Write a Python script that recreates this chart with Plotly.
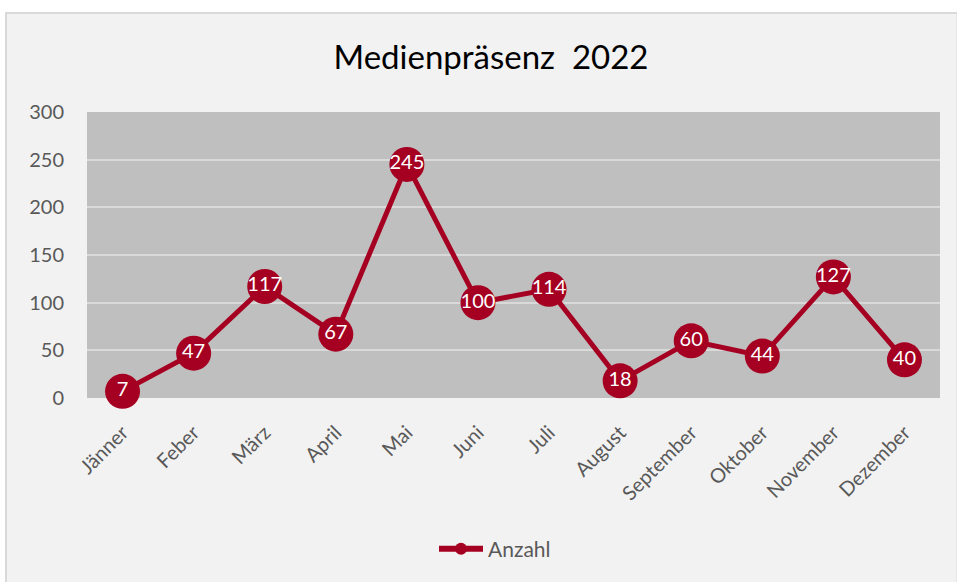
import plotly.graph_objects as go

months = ["Jänner", "Feber", "März", "April", "Mai", "Juni", "Juli",
          "August", "September", "Oktober", "November", "Dezember"]
anzahl = [7, 47, 117, 67, 245, 100, 114, 18, 60, 44, 127, 40]
y_ticks = [0, 50, 100, 150, 200, 250, 300]

RED = "#a50021"
W, H = 957, 582
L, R, T, B = 87, 17, 112, 184
pw, ph = W - L - R, H - T - B


def px_x(x):
    return (x - L) / pw


def px_y(y):
    return (H - B - y) / ph


fig = go.Figure()
fig.add_trace(go.Scatter(
    x=months, y=anzahl, name="Anzahl", showlegend=False,
    mode="lines+markers+text",
    line=dict(color=RED, width=5),
    marker=dict(color=RED, size=35, line=dict(width=0)),
    text=[str(v) for v in anzahl],
    textposition="middle center",
    textfont=dict(color="white", size=20, family="Lato"),
    cliponaxis=False,
))
# legend entry (same series, legend-only styling)
fig.add_trace(go.Scatter(
    x=[None], y=[None], name="Anzahl", mode="lines+markers",
    line=dict(color=RED, width=6),
    marker=dict(color=RED, size=12),
))

fig.update_layout(
    width=W, height=H,
    margin=dict(l=L, r=R, t=T, b=B, pad=0),
    paper_bgcolor="white",
    plot_bgcolor="rgba(0,0,0,0)",
    font=dict(family="Lato", color="#595959", size=20),
    title=dict(text="Medienpräsenz  2022", x=px_x(491), xanchor="center",
               xref="paper",
               y=1 - 57 / H, yanchor="middle",
               font=dict(size=33, color="black", family="Lato")),
    showlegend=True,
    legend=dict(orientation="h", x=px_x(495), xanchor="center",
                y=px_y(549), yanchor="middle", itemwidth=44,
                font=dict(size=21, color="#595959"),
                bgcolor="rgba(0,0,0,0)"),
    shapes=[
        dict(type="rect", xref="paper", yref="paper", layer="below",
             x0=px_x(6), x1=px_x(957.5), y0=px_y(583), y1=px_y(13),
             fillcolor="#f2f2f2", line=dict(color="#d9d9d9", width=2)),
        dict(type="rect", xref="paper", yref="paper", layer="below",
             x0=0, x1=1, y0=0, y1=1,
             fillcolor="#bfbfbf", line=dict(width=0)),
    ],
)

fig.update_xaxes(
    type="category", range=[-0.5, 11.5], tickangle=-45,
    showgrid=False, showline=False, zeroline=False, ticks="",
    ticklabelstandoff=18,
    tickfont=dict(size=20, color="#595959"),
)
fig.update_yaxes(
    range=[0, 300], tickvals=y_ticks,
    showgrid=True, gridcolor="#d9d9d9", gridwidth=2,
    showline=False, zeroline=False, ticks="", ticklabelstandoff=22,
    tickfont=dict(size=20, color="#595959"),
)

fig.write_html("out.html")
